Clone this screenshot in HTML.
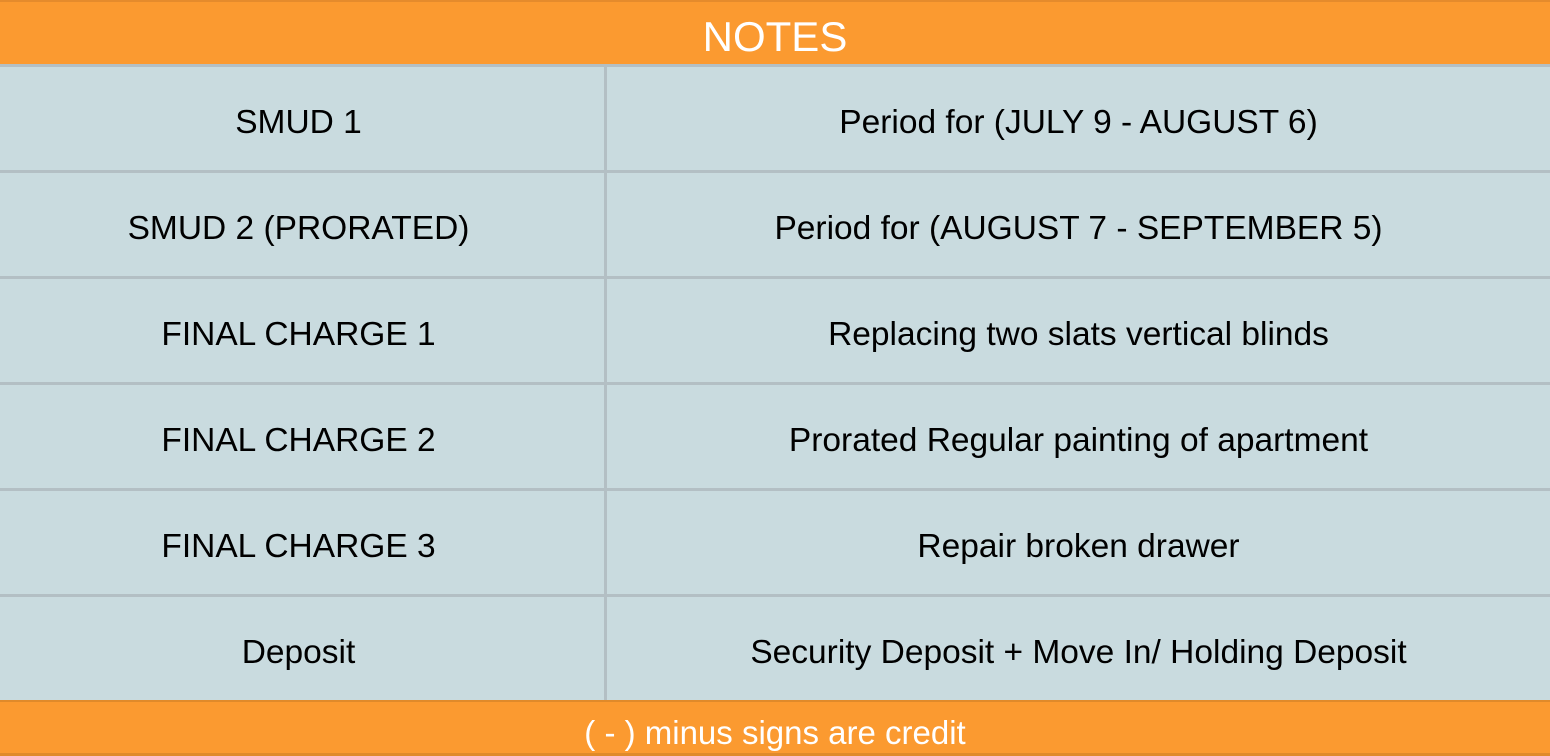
<!DOCTYPE html>
<html><head><meta charset="utf-8"><style>
html,body{margin:0;width:1550px;height:756px;overflow:hidden}
body{background:#C9DBDF;font-family:"Liberation Sans",Arial,sans-serif;position:relative}
div{position:absolute;box-sizing:border-box}
.hdr{left:0;top:0;width:1550px;height:64px;background:#FB9A30;color:#fff;font-size:42px;text-align:center;line-height:70px;border-top:2px solid #E58B2C}
.line{left:0;width:1550px;height:3px;background:#B3BFC4}
.vline{left:604px;top:64px;width:3px;height:636px;background:#B3BFC4}
.cell{height:103px;line-height:111px;text-align:center;font-size:33.5px;color:#000}
.c1{left:0;width:597px}
.c2{left:607px;width:943px}
.ftr{left:0;top:700px;width:1550px;height:56px;background:#FB9A30;color:#fff;font-size:33px;text-align:center;line-height:62px;border-top:2px solid #E08A2A;border-bottom:3px solid #E08A2A}
</style></head><body>
<div class="hdr">NOTES</div>
<div class="line" style="top:64px"></div>
<div class="line" style="top:170px"></div>
<div class="line" style="top:276px"></div>
<div class="line" style="top:382px"></div>
<div class="line" style="top:488px"></div>
<div class="line" style="top:594px"></div>
<div class="vline"></div>
<div class="cell c1" style="top:67px">SMUD 1</div>
<div class="cell c2" style="top:67px">Period for (JULY 9 - AUGUST 6)</div>
<div class="cell c1" style="top:173px">SMUD 2 (PRORATED)</div>
<div class="cell c2" style="top:173px">Period for (AUGUST 7 - SEPTEMBER 5)</div>
<div class="cell c1" style="top:279px">FINAL CHARGE 1</div>
<div class="cell c2" style="top:279px">Replacing two slats vertical blinds</div>
<div class="cell c1" style="top:385px">FINAL CHARGE 2</div>
<div class="cell c2" style="top:385px">Prorated Regular painting of apartment</div>
<div class="cell c1" style="top:491px">FINAL CHARGE 3</div>
<div class="cell c2" style="top:491px">Repair broken drawer</div>
<div class="cell c1" style="top:597px">Deposit</div>
<div class="cell c2" style="top:597px">Security Deposit + Move In/ Holding Deposit</div>
<div class="ftr">( - ) minus signs are credit</div>
</body></html>
